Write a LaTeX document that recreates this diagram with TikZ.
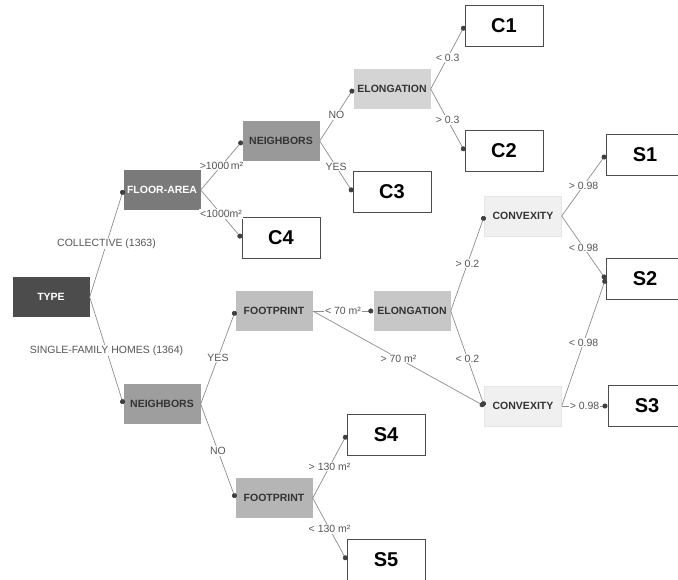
\documentclass[tikz,border=0pt]{standalone}
\usepackage{fontspec}
\setmainfont{Liberation Sans}
\usetikzlibrary{arrows.meta}
\definecolor{linegray}{HTML}{8C8C8C}
\definecolor{labgray}{HTML}{555555}
\begin{document}
\begin{tikzpicture}[x=1pt, y=-1pt,
  split/.style = {minimum width=77pt, minimum height=40pt, inner sep=0pt,
                  font=\bfseries\fontsize{10.5}{12}\selectfont, text=black!80},
  leaf/.style = {draw=black!70, line width=1pt, fill=white, minimum width=78pt,
                 minimum height=41pt, inner sep=0pt, font=\bfseries\fontsize{20}{22}\selectfont},
  branch/.style = {draw=linegray, line width=0.7pt, -{Circle[length=5pt, color=black!75]}},
  lab/.style = {midway, fill=white, inner sep=1pt, text=labgray,
                font=\fontsize{10.5}{12}\selectfont}]
			\useasboundingbox (0,0) rectangle (678,580);
			\node[split, fill=black!70, text=white] (type) at (51,297) {TYPE};
			\node[split, fill=black!52, text=white] (floor) at (162,190) {FLOOR-AREA};
			\node[split, fill=black!40] (neighA) at (281,141) {NEIGHBORS};
			\node[split, fill=black!17] (elongA) at (392,89) {ELONGATION};
			\node[leaf] (C1) at (504,26) {C1};
			\node[leaf] (C2) at (504,151) {C2};
			\node[leaf] (C3) at (392,192) {C3};
			\node[leaf] (C4) at (281,238) {C4};
			\node[split, fill=black!38] (neighB) at (162,404) {NEIGHBORS};
			\node[split, fill=black!25] (footA) at (274,311) {FOOTPRINT};
			\node[split, fill=black!22] (elongB) at (412,311) {ELONGATION};
			\node[split, fill=black!6, draw=black!10] (convA) at (523,216) {CONVEXITY};
			\node[split, fill=black!6, draw=black!10] (convB) at (523,406) {CONVEXITY};
			\node[leaf] (S1) at (645,155) {S1};
			\node[leaf] (S2) at (645,279) {S2};
			\node[leaf] (S3) at (647,406) {S3};
			\node[split, fill=black!29] (footB) at (274,498) {FOOTPRINT};
			\node[leaf] (S4) at (386,435) {S4};
			\node[leaf] (S5) at (386,560) {S5};
			\draw[branch] (type.east) -- (floor.west) node[lab] {COLLECTIVE (1363)};
			\draw[branch] (type.east) -- (neighB.west) node[lab] {SINGLE-FAMILY HOMES (1364)};
			\draw[branch] (floor.east) -- (neighA.west) node[lab] {>1000\,m²};
			\draw[branch] (floor.east) -- (C4.west) node[lab] {<1000m²};
			\draw[branch] (neighA.east) -- (elongA.west) node[lab] {NO};
			\draw[branch] (neighA.east) -- (C3.west) node[lab] {YES};
			\draw[branch] (elongA.east) -- (C1.west) node[lab] {< 0.3};
			\draw[branch] (elongA.east) -- (C2.west) node[lab] {> 0.3};
			\draw[branch] (neighB.east) -- (footA.west) node[lab] {YES};
			\draw[branch] (neighB.east) -- (footB.west) node[lab] {NO};
			\draw[branch] (footA.east) -- (elongB.west) node[lab] {< 70 m²};
			\draw[branch] (footA.east) -- (convB.west) node[lab] {> 70 m²};
			\draw[branch] (elongB.east) -- (convA.west) node[lab] {> 0.2};
			\draw[branch] (elongB.east) -- (convB.west) node[lab] {< 0.2};
			\draw[branch] (convA.east) -- (S1.west) node[lab] {> 0.98};
			\draw[branch] (convA.east) -- (S2.west) node[lab] {< 0.98};
			\draw[branch] (convB.east) -- (S2.west) node[lab] {< 0.98};
			\draw[branch] (convB.east) -- (S3.west) node[lab] {> 0.98};
			\draw[branch] (footB.east) -- (S4.west) node[lab] {> 130 m²};
			\draw[branch] (footB.east) -- (S5.west) node[lab] {< 130 m²};
		\end{tikzpicture}
\end{document}
